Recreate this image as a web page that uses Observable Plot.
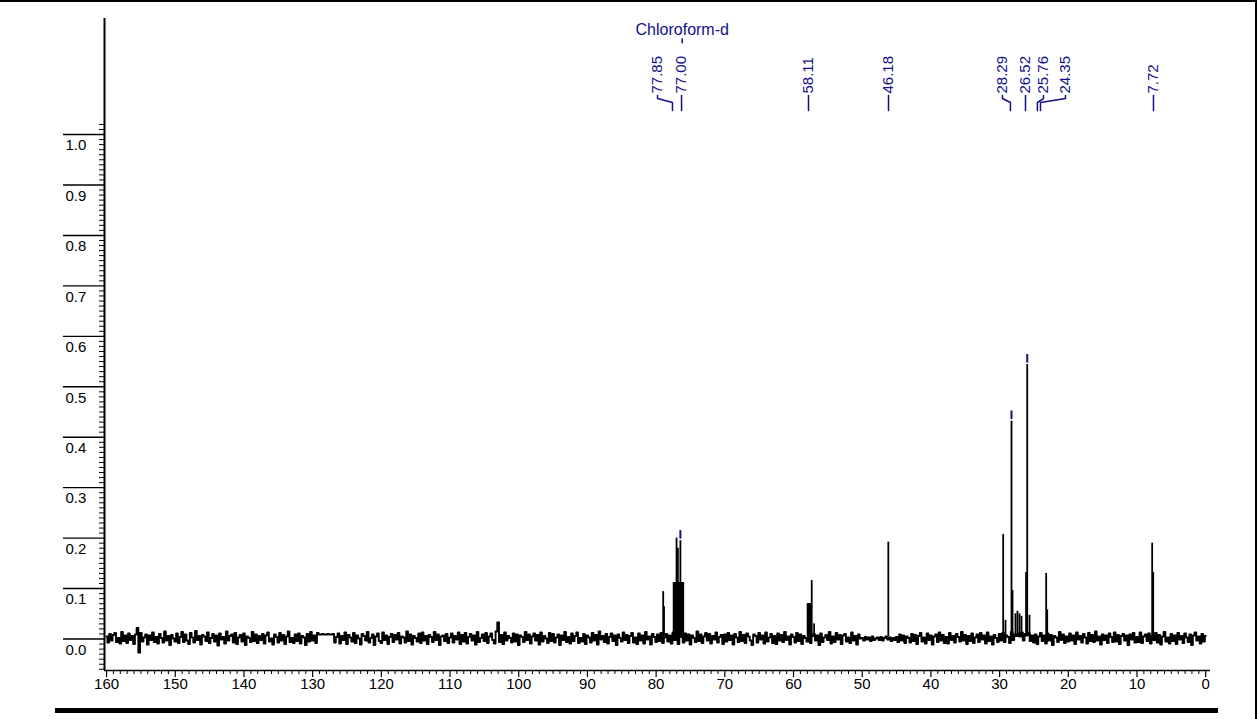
<!DOCTYPE html>
<html>
<head>
<meta charset="utf-8">
<script src="https://cdn.jsdelivr.net/npm/d3@7"></script>
<script src="https://cdn.jsdelivr.net/npm/@observablehq/plot@0.6"></script>
<style>
  html, body { margin: 0; padding: 0; background: #fff; }
  #wrap { position: relative; width: 1259px; height: 719px; overflow: hidden; }
  #frameline { position: absolute; left: 0; top: 0; width: 1257px; height: 719px; box-sizing: border-box;
    border-top: 2px solid #000; border-right: 2px solid #000; pointer-events: none; }
  #bottomline { position: absolute; left: 55px; top: 708px; width: 1163px; height: 5px; background: #000; }
</style>
</head>
<body>
<div id="wrap"><div id="chart"></div><div id="frameline"></div><div id="bottomline"></div></div>
<script>
// ---- data ----
// x axis (ppm) domain, reversed as in NMR
const xDomain = [160.3, -0.7];
const yDomain = [-0.0624, 1.23];
const xMajor = [160, 150, 140, 130, 120, 110, 100, 90, 80, 70, 60, 50, 40, 30, 20, 10, 0];
const yMajor = [0.0, 0.1, 0.2, 0.3, 0.4, 0.5, 0.6, 0.7, 0.8, 0.9, 1.0];

// baseline noise, in thousandths of intensity, sampled every 0.25 ppm from 160 down to 0
const noiseStartPpm = 160;
const noiseStepPpm = 0.25;
const noiseMilli = [
  5,-7,10,-3,8,12,-6,2,-9,14,
  -4,7,-8,11,-2,6,-10,9,22,-27,
  12,-5,3,9,-11,7,-2,13,-6,4,
  -9,10,2,-7,15,-3,6,-12,8,1,
  -5,11,-8,4,14,-6,9,-3,-10,12,
  3,-7,16,-2,6,-11,8,5,-4,13,
  -8,2,10,-5,7,-13,11,-1,4,-9,
  15,-3,6,9,-7,12,-10,3,8,-5,
  11,-12,5,2,-6,14,-4,9,-8,6,
  -2,10,-9,7,13,-5,1,-11,9,4,
  -7,12,-3,8,-10,5,15,-6,2,-8,
  9,-4,11,-9,6,3,-12,10,-5,14,
  -3,7,-8,12,9,9,10,9,9,10,
  9,9,10,-7,4,11,-9,6,-2,13,
  -10,8,3,-5,12,-8,7,1,-11,10,
  6,-3,14,-7,2,9,-12,5,11,-4,
  -8,13,-2,7,-10,4,10,-6,8,-1,
  12,-9,5,3,-7,15,-4,9,-11,6,
  2,-5,11,-8,13,-3,6,-10,8,4,
  -6,14,-2,9,-12,5,7,-4,10,-8,
  3,11,-7,6,-1,13,-10,8,-5,12,
  -9,4,10,-3,7,-11,14,-6,2,9,
  -4,12,-8,5,11,-2,-9,15,33,-6,
  8,-10,13,-3,6,2,-7,11,-5,9,
  -12,7,4,-6,14,-2,9,-9,5,11,
  -3,8,-11,13,-5,6,1,-8,12,-4,
  10,-7,3,9,-12,7,-2,14,-6,4,
  -9,11,-4,6,13,-8,2,-5,10,-10,
  7,3,-7,12,-3,8,-11,15,-1,6,
  -6,10,-9,4,11,-4,7,-12,9,2,
  -5,13,-2,8,-8,6,12,-7,3,-10,
  11,-3,7,-9,14,-1,5,-11,10,4,
  -6,9,-4,12,-8,3,10,-5,7,-9,
  13,-2,6,-10,8,4,-7,11,-3,9,
  -11,7,2,-6,15,-4,9,-8,5,12,
  -3,10,-9,6,-1,13,-7,4,8,-10,
  9,-5,12,-2,7,-11,10,3,-6,14,
  -4,8,-8,11,5,-3,-12,9,6,-7,
  12,-1,7,-9,13,-5,3,10,-8,6,
  -10,11,-3,8,-6,14,-2,5,-11,9,
  4,-7,12,-4,9,-10,6,2,-5,13,
  -8,6,10,-3,7,-12,11,-6,3,8,
  -2,14,-9,5,-6,12,-1,8,-10,7,
  10,-5,3,-8,13,-3,6,-11,9,1,
  2,-3,4,-1,3,-4,5,-2,1,3,
  -2,4,-3,2,5,-1,3,-4,2,-2,
  4,-6,9,-3,7,-8,5,2,-7,10,
  -4,8,-10,6,12,-5,3,-9,11,-2,
  7,-11,5,9,-6,13,-3,8,-8,4,
  -9,12,-2,6,-7,10,4,-5,14,-3,
  8,-10,6,-4,11,-8,3,9,-6,12,
  -1,7,-9,13,-4,5,-11,8,2,-6,
  10,-3,12,-6,7,4,-8,14,-2,9,
  6,11,5,13,-3,10,8,12,-4,7,
  -7,9,-10,5,12,-4,7,-9,11,-3,
  8,-12,6,3,-6,14,-2,9,-8,5,
  -5,11,-3,7,-10,13,-1,6,-7,10,
  3,-9,12,-4,8,-6,15,-3,5,-11,
  9,-2,7,-8,11,4,-6,13,-5,8,
  -10,6,10,-3,7,-12,9,-1,12,-7,
  4,-6,13,-8,5,9,-4,11,-9,6,
  -2,12,-7,8,-11,5,14,-5,3,-9,
  10,-4,7,-10,12,-1,6,-8,11,3,
  -6,9,-12,7,13,-3,5,-9,10,-5,
  6
];

// peak lines: chemical shift (ppm) and height
const peakPpm = [
  78.97, 78.85,
  77.45, 77.35, 77.25, 77.15, 77.03, 76.95, 76.83, 76.72, 76.6, 76.47, 76.35, 76.2, 76.05,
  57.95, 57.8, 57.65, 57.5, 57.35, 57.0,
  46.2,
  29.48, 29.14, 28.27, 28.12, 27.69, 27.4, 27.1, 26.81, 26.15, 25.98, 25.65,
  23.22, 23.07,
  7.79, 7.64
];
const peakHeight = [
  0.094, 0.064,
  0.112, 0.112, 0.112, 0.112, 0.200, 0.112, 0.180, 0.112, 0.112, 0.195, 0.112, 0.112, 0.112,
  0.070, 0.070, 0.070, 0.070, 0.116, 0.030,
  0.192,
  0.207, 0.037, 0.432, 0.096, 0.050, 0.055, 0.050, 0.045, 0.132, 0.544, 0.047,
  0.130, 0.058,
  0.190, 0.132
];
// blue peak-pick markers (ppm, peak height)
const markPpm = [28.27, 25.98, 76.47];
const markHeight = [0.432, 0.544, 0.195];

// peak labels: text, where the label text sits (ppm), where its connector ends (ppm)
const labelText = ["77.85", "77.00", "58.11", "46.18", "28.29", "26.52", "25.76", "24.35", "7.72"];
const labelPos = [79.8, 76.3, 57.82, 46.17, 29.58, 26.23, 23.61, 20.41, 7.6];
const labelTarget = [77.62, 76.3, 57.82, 46.17, 28.42, 26.23, 24.5, 24.05, 7.6];
const solventText = "Chloroform-d";
const solventPpm = 76.2;

// ---- build tables ----
const noiseData = noiseMilli.map((m, i) => ({ppm: noiseStartPpm - i * noiseStepPpm, v: m / 1000}));
const peaks = peakPpm.map((p, i) => ({ppm: p, h: peakHeight[i]}));
const marks = markPpm.map((p, i) => ({ppm: p, h: markHeight[i]}));
const labels = labelText.map((t, i) => ({t, pos: labelPos[i], target: labelTarget[i]}));
const xMinor = d3.range(0, 161, 1).filter(d => d % 10 !== 0);
const yMinor = d3.range(-6, 103, 1).map(d => d / 100).filter(d => Math.round(d * 100) % 10 !== 0);

// label layout levels (intensity units above the plot)
const textBase = 1.0813, c0 = 1.0773, c1 = 1.0714, c2 = 1.0635, c3 = 1.0476;
const connectors = labels.flatMap((d, i) => [
  {i, ppm: d.pos, y: c0}, {i, ppm: d.pos, y: c1}, {i, ppm: d.target, y: c2}, {i, ppm: d.target, y: c3}
]);
const navy = "#10108a";

const chart = Plot.plot({
  width: 1259,
  height: 719,
  marginLeft: 104,
  marginRight: 49,
  marginTop: 18,
  marginBottom: 49,
  style: {fontFamily: "'Liberation Sans', Arial, sans-serif", fontSize: "15px", background: "#fff", overflow: "visible"},
  x: {domain: xDomain, label: null},
  y: {domain: yDomain, label: null},
  marks: [
    // axes
    Plot.axisY(yMinor, {anchor: "left", tickSize: 5, tickFormat: () => "", label: null, strokeWidth: 1}),
    Plot.axisY(yMajor, {anchor: "left", tickSize: 41, tickFormat: () => "", label: null, strokeWidth: 1.4}),
    Plot.text(yMajor, {y: d => d, text: d => d.toFixed(1), frameAnchor: "left", dx: -39, dy: 11, textAnchor: "start", fontSize: 15, fill: "#000"}),
    Plot.axisX(xMinor, {anchor: "bottom", tickSize: 4, tickFormat: () => "", label: null, strokeWidth: 1}),
    Plot.axisX(xMajor, {anchor: "bottom", tickSize: 7, tickPadding: 1, tickFormat: d => String(d), label: null, fontSize: 15, strokeWidth: 1.2}),
    Plot.ruleX([xDomain[0]], {y1: yDomain[0], y2: yDomain[1], stroke: "#000", strokeWidth: 2}),
    Plot.ruleY([yDomain[0]], {stroke: "#000", strokeWidth: 1.6}),
    // spectrum
    Plot.line(noiseData, {x: "ppm", y: "v", curve: "step", stroke: "#000", strokeWidth: 1.9}),
    Plot.ruleX(peaks, {x: "ppm", y1: 0.004, y2: "h", stroke: "#000", strokeWidth: 1.8}),
    Plot.ruleX(marks, {x: "ppm", y1: d => d.h + 0.003, y2: d => d.h + 0.02, stroke: navy, strokeWidth: 2}),
    // peak labels
    Plot.line(connectors, {x: "ppm", y: "y", z: "i", stroke: navy, strokeWidth: 1.5}),
    Plot.text(labels, {x: "pos", y: textBase, text: "t", rotate: -90, textAnchor: "start", lineAnchor: "middle", fill: navy, fontSize: 15}),
    Plot.text([solventText], {x: solventPpm, y: 1.208, text: d => d, fill: navy, fontSize: 16, letterSpacing: "1px"}),
    Plot.ruleX([solventPpm], {y1: 1.180, y2: 1.190, stroke: navy, strokeWidth: 1.5})
  ]
});
document.getElementById("chart").appendChild(chart);
</script>
</body>
</html>
